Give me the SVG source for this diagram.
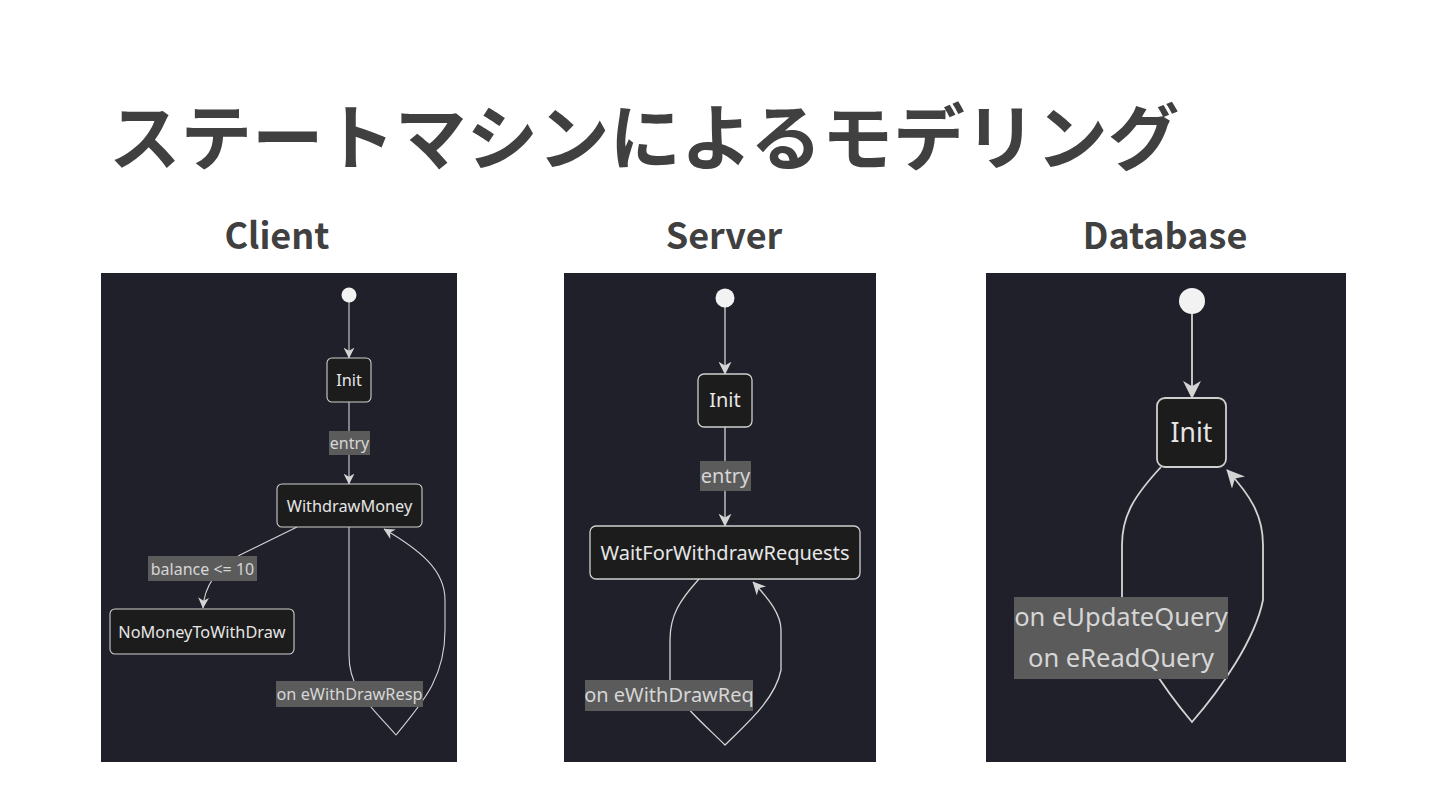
<svg xmlns="http://www.w3.org/2000/svg" width="1440" height="810" viewBox="0 0 1440 810">
<style>
.title{font-family:"Noto Sans CJK JP","Noto Sans",sans-serif;font-weight:700;fill:#404040}
.panel{fill:#1f2029}
.node{fill:#1c1c1c;stroke:#cfcfcf}
.start{fill:#f2f2f2}
.lbl{fill:#5b5b5b}
.txt{font-family:"Noto Sans","Open Sans",sans-serif;fill:#e6e6e6;text-anchor:middle}
.ltxt{font-family:"Noto Sans","Open Sans",sans-serif;fill:#d6d6d6;text-anchor:middle}
.edge{fill:none;stroke:#d4d4d4}
</style>
<defs>
<marker id="arr" viewBox="0 0 10 10" refX="9.5" refY="5" markerWidth="10" markerHeight="10" markerUnits="strokeWidth" orient="auto">
<path d="M0,0 L10,5 L0,10 L3,5 z" fill="#d4d4d4"/>
</marker>
</defs>
<rect width="1440" height="810" fill="#ffffff"/>
<text class="title" x="109" y="164" font-size="71.5">ステートマシンによるモデリング</text>
<text class="title" x="277" y="249" font-size="36" text-anchor="middle">Client</text>
<text class="title" x="724" y="249" font-size="36" text-anchor="middle">Server</text>
<text class="title" x="1165" y="249" font-size="36" text-anchor="middle">Database</text>

<rect class="panel" x="101" y="273" width="356" height="489"/>
<rect class="panel" x="564" y="273" width="312" height="489"/>
<rect class="panel" x="986" y="273" width="360" height="489"/>

<g id="connectors">
<path class="edge" stroke-width="1.1" d="M349,302 L349,358" marker-end="url(#arr)"/>
<path class="edge" stroke-width="1.1" d="M349,402 L349,484" marker-end="url(#arr)"/>
<path class="edge" stroke-width="1.1" d="M297,527 L240,555 Q205,575 203,608" marker-end="url(#arr)"/>
<path class="edge" stroke-width="1.1" d="M349,527 L349,655 C349,690 370,705 396,735 C420,705 445,680 445,630 L445,600 C445,570 420,550 384,529" marker-end="url(#arr)"/>

<path class="edge" stroke-width="1.3" d="M725,307 L725,374" marker-end="url(#arr)"/>
<path class="edge" stroke-width="1.3" d="M725,427 L725,526" marker-end="url(#arr)"/>
<path class="edge" stroke-width="1.3" d="M699,579 C680,600 670,615 670,640 L670,680 C675,700 705,725 725,745 C745,725 775,700 781,670 L781,630 C781,615 770,600 753,582" marker-end="url(#arr)"/>

<path class="edge" stroke-width="1.8" d="M1192,314 L1192,398" marker-end="url(#arr)"/>
<path class="edge" stroke-width="1.8" d="M1161,467 C1135,495 1122,515 1122,545 L1122,600 C1130,640 1165,690 1192,722 C1220,690 1255,640 1263,600 L1263,545 C1263,515 1250,495 1227,470" marker-end="url(#arr)"/>

<rect class="lbl" x="329" y="431" width="41" height="24"/>
<text class="ltxt" x="349.5" y="448.5" font-size="16">entry</text>
<rect class="lbl" x="148" y="556" width="109" height="25"/>
<text class="ltxt" x="202.5" y="574.5" font-size="16">balance &lt;= 10</text>
<rect class="lbl" x="276" y="681" width="147" height="26"/>
<text class="ltxt" x="349.5" y="699.5" font-size="16.3">on eWithDrawResp</text>

<rect class="lbl" x="700" y="461" width="51" height="30"/>
<text class="ltxt" x="725.5" y="483" font-size="20">entry</text>
<rect class="lbl" x="585" y="680" width="168" height="31"/>
<text class="ltxt" x="669" y="702" font-size="20">on eWithDrawReq</text>

<rect class="lbl" x="1014" y="597" width="214" height="82"/>
<text class="ltxt" x="1121" y="626" font-size="25.5">on eUpdateQuery</text>
<text class="ltxt" x="1121" y="667" font-size="25.5">on eReadQuery</text>
</g>

<g id="client-start"><circle class="start" cx="349" cy="295" r="7.5"/></g>
<g id="client-init"><rect class="node" x="327" y="358" width="44" height="44" rx="5" stroke-width="1.1"/><text class="txt" x="349" y="386" font-size="16.3">Init</text></g>
<g id="client-withdraw"><rect class="node" x="277" y="484" width="145" height="43" rx="5" stroke-width="1.1"/><text class="txt" x="349.5" y="511.5" font-size="16.3">WithdrawMoney</text></g>
<g id="client-nomoney"><rect class="node" x="110" y="609" width="184" height="45" rx="5" stroke-width="1.1"/><text class="txt" x="202" y="637.5" font-size="16.3">NoMoneyToWithDraw</text></g>

<g id="server-start"><circle class="start" cx="725" cy="298" r="9.5"/></g>
<g id="server-init"><rect class="node" x="698" y="374" width="54" height="53" rx="6" stroke-width="1.3"/><text class="txt" x="725" y="407" font-size="20">Init</text></g>
<g id="server-wait"><rect class="node" x="590" y="526" width="270" height="53" rx="6" stroke-width="1.3"/><text class="txt" x="725" y="559.5" font-size="20">WaitForWithdrawRequests</text></g>

<g id="db-start"><circle class="start" cx="1192" cy="301" r="13"/></g>
<g id="db-init"><rect class="node" x="1157" y="398" width="69" height="69" rx="8" stroke-width="1.8"/><text class="txt" x="1191.5" y="442" font-size="26.5">Init</text></g>
</svg>
